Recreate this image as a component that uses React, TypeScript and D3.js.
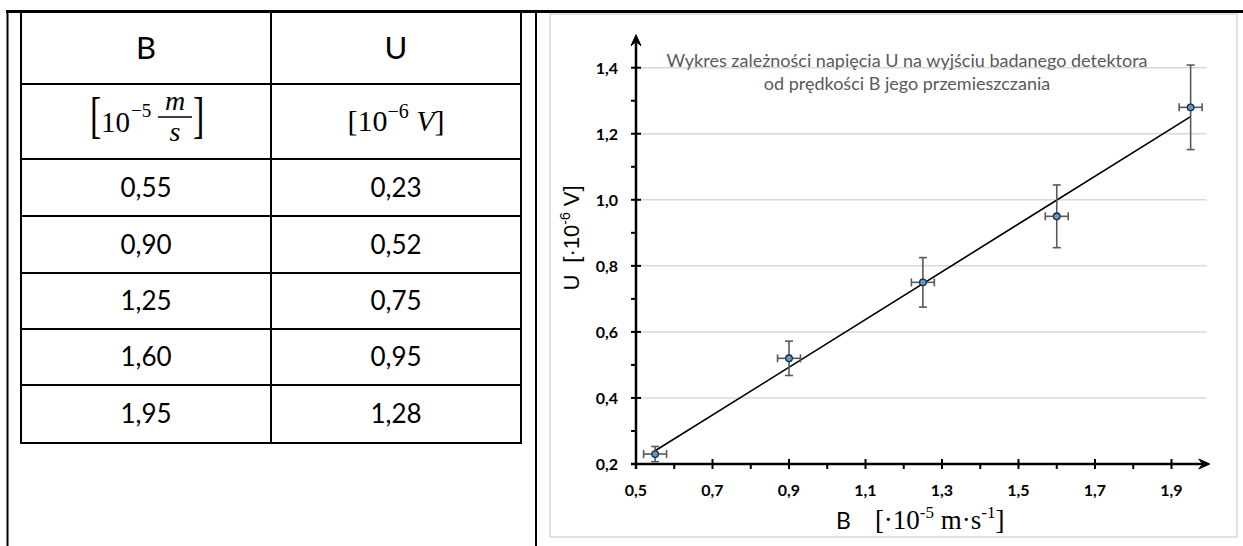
import * as d3 from 'd3'

// measurement table
const bLabels = ['0,55', '0,90', '1,25', '1,60', '1,95']
const uLabels = ['0,23', '0,52', '0,75', '0,95', '1,28']

// chart series
const bValues = [0.55, 0.9, 1.25, 1.6, 1.95]
const uValues = [0.23, 0.52, 0.75, 0.95, 1.28]
const bErrors = [0.03, 0.03, 0.03, 0.03, 0.03]
const uErrors = [0.023, 0.052, 0.075, 0.095, 0.128]

const xMajorTicks = [0.5, 0.7, 0.9, 1.1, 1.3, 1.5, 1.7, 1.9]
const xMinorTicks = [0.6, 0.8, 1.0, 1.2, 1.4, 1.6, 1.8]
const yMajorTicks = [0.2, 0.4, 0.6, 0.8, 1.0, 1.2, 1.4]
const yMinorTicks = [0.3, 0.5, 0.7, 0.9, 1.1, 1.3]

const titleLines = [
  'Wykres zależności napięcia U na wyjściu badanego detektora',
  'od prędkości B jego przemieszczania',
]

const SANS = 'Lato, "Open Sans", sans-serif'
const SERIF = '"Liberation Serif", "DejaVu Serif", serif'

const plFormat = d3.formatLocale({ decimal: ',', thousands: ' ', grouping: [3], currency: ['', ''] }).format('.1f')

export default function App() {
  const width = 1243
  const height = 546

  const x = d3.scaleLinear().domain([0.5, 1.9]).range([636, 1171.5])
  const y = d3.scaleLinear().domain([0.2, 1.4]).range([464, 67.7])

  // least squares fit line
  const points = bValues.map((b, i) => ({ b, u: uValues[i], eb: bErrors[i], eu: uErrors[i] }))
  const mb = d3.mean(bValues) ?? 0
  const mu = d3.mean(uValues) ?? 0
  const sxy = d3.sum(points, p => (p.b - mb) * (p.u - mu))
  const sxx = d3.sum(points, p => (p.b - mb) ** 2)
  const slope = sxy / sxx
  const icpt = mu - slope * mb
  const [bMin, bMax] = d3.extent(bValues) as [number, number]
  const fitLine = d3.line<number>().x(b => x(b)).y(b => y(icpt + slope * b))

  // table layout
  const colX = [21, 271, 521]
  const rowY = [11, 84, 159, 216, 273, 329, 385, 443]
  const c1 = (colX[0] + colX[1]) / 2
  const c2 = (colX[1] + colX[2]) / 2

  const x0 = x(0.5)
  const y0 = y(0.2)
  const xEnd = x(2.0)
  const yEnd = y(1.5)

  return (
    <svg width={width} height={height} style={{ position: 'absolute', left: 0, top: 0, background: '#fff' }}>
      {/* page frame */}
      <line x1={6} x2={width} y1={11.5} y2={11.5} stroke="#000" strokeWidth={3} />
      <line x1={7.5} x2={7.5} y1={10} y2={height} stroke="#000" strokeWidth={2} />
      <line x1={536} x2={536} y1={10} y2={height} stroke="#000" strokeWidth={2} />

      {/* table */}
      <g stroke="#000" strokeWidth={2}>
        {colX.map(cx => (
          <line key={cx} x1={cx} x2={cx} y1={rowY[0]} y2={rowY[rowY.length - 1] + 1} />
        ))}
        {rowY.slice(1).map(ry => (
          <line key={ry} x1={colX[0]} x2={colX[2]} y1={ry} y2={ry} />
        ))}
      </g>
      <g fontFamily={SANS} fill="#000" textAnchor="middle">
        <text x={c1} y={59} fontSize={31}>B</text>
        <text x={c2} y={59} fontSize={31}>U</text>
        {bLabels.map((lab, i) => (
          <text key={lab} x={c1} y={(rowY[i + 2] + rowY[i + 3]) / 2 + 9} fontSize={26}>{lab}</text>
        ))}
        {uLabels.map((lab, i) => (
          <text key={lab} x={c2} y={(rowY[i + 2] + rowY[i + 3]) / 2 + 9} fontSize={26}>{lab}</text>
        ))}
      </g>
      {/* unit cells */}
      <g fontFamily={SERIF} fill="#000">
        <text x={90} y={132} fontSize={34} transform="translate(0,-62) scale(1,1.47)" style={{ transformOrigin: '0 0' }}>[</text>
        <text x={101} y={132} fontSize={29}>10</text>
        <text x={131} y={117} fontSize={19}>−5</text>
        <text x={175} y={110} fontSize={28} fontStyle="italic" textAnchor="middle">m</text>
        <line x1={158} x2={192} y1={117} y2={117} stroke="#000" strokeWidth={1.3} />
        <text x={175} y={141} fontSize={28} fontStyle="italic" textAnchor="middle">s</text>
        <text x={193} y={132} fontSize={34} transform="translate(0,-62) scale(1,1.47)" style={{ transformOrigin: '0 0' }}>]</text>

        <text x={c2} y={131} fontSize={30} textAnchor="middle">
          [10<tspan fontSize={20} dy={-13}>−6</tspan>
          <tspan dy={13}> </tspan>
          <tspan fontStyle="italic">V</tspan>]
        </text>
      </g>

      {/* chart frame */}
      <rect x={550} y={14} width={687} height={523} fill="#fff" stroke="#d9d9d9" strokeWidth={1.5} />

      {/* grid */}
      <g stroke="#d9d9d9" strokeWidth={1.5}>
        {yMajorTicks.filter(t => t > 0.2).map(t => (
          <line key={t} x1={x0 + 2} x2={xEnd - 3} y1={y(t)} y2={y(t)} />
        ))}
      </g>

      {/* title */}
      <g fontFamily={SANS} fontSize={18} fill="#595959" textAnchor="middle">
        {titleLines.map((ln, i) => (
          <text key={i} x={907} y={67 + i * 23}>{ln}</text>
        ))}
      </g>

      {/* axes */}
      <g stroke="#000" strokeWidth={2.5}>
        <line x1={x0} x2={x0} y1={y0 + 5} y2={yEnd + 4} />
        <line x1={x0 - 5} x2={xEnd - 4} y1={y0} y2={y0} />
      </g>
      <path d={`M${x0},${yEnd} L${x0 - 5},${yEnd + 11} L${x0},${yEnd + 7} L${x0 + 5},${yEnd + 11} Z`} fill="#000" stroke="#000" strokeWidth={1} strokeLinejoin="round" />
      <path d={`M${xEnd},${y0} L${xEnd - 11},${y0 - 5} L${xEnd - 7},${y0} L${xEnd - 11},${y0 + 5} Z`} fill="#000" stroke="#000" strokeWidth={1} strokeLinejoin="round" />
      <g stroke="#000" strokeWidth={2}>
        {xMajorTicks.map(t => (
          <line key={t} x1={x(t)} x2={x(t)} y1={y0 - 5} y2={y0 + 5} />
        ))}
        {xMinorTicks.map(t => (
          <line key={t} x1={x(t)} x2={x(t)} y1={y0} y2={y0 + 5} />
        ))}
        {yMajorTicks.map(t => (
          <line key={t} x1={x0 - 5} x2={x0 + 5} y1={y(t)} y2={y(t)} />
        ))}
        {yMinorTicks.map(t => (
          <line key={t} x1={x0 - 5} x2={x0} y1={y(t)} y2={y(t)} />
        ))}
      </g>
      <g fontFamily={SANS} fontSize={16} fontWeight="bold" fill="#000">
        {xMajorTicks.map(t => (
          <text key={t} x={x(t)} y={y0 + 32} textAnchor="middle">{plFormat(t)}</text>
        ))}
        {yMajorTicks.map(t => (
          <text key={t} x={x0 - 18} y={y(t) + 6} textAnchor="end">{plFormat(t)}</text>
        ))}
      </g>

      {/* axis titles */}
      <text x={836} y={529} fill="#000">
        <tspan fontFamily={SANS} fontSize={23}>B</tspan>
        <tspan fontFamily={SERIF} fontSize={27} dx={24}>[·10</tspan>
        <tspan fontFamily={SERIF} fontSize={17} dy={-11}>-5</tspan>
        <tspan fontFamily={SERIF} fontSize={27} dy={11}> m·s</tspan>
        <tspan fontFamily={SERIF} fontSize={17} dy={-11}>-1</tspan>
        <tspan fontFamily={SERIF} fontSize={27} dy={11}>]</tspan>
      </text>
      <text transform="translate(579,238) rotate(-90)" textAnchor="middle" fontFamily='"Liberation Sans", Arial, sans-serif' fontSize={22} fill="#000">
        U<tspan dx={12}>[·10</tspan>
        <tspan fontSize={14} dy={-9}>-6</tspan>
        <tspan dy={9}> V]</tspan>
      </text>

      {/* fit line */}
      <path d={fitLine([bMin, bMax]) ?? ''} fill="none" stroke="#000" strokeWidth={1.6} />

      {/* error bars and points */}
      <g stroke="#595959" strokeWidth={1.6}>
        {points.map(p => (
          <g key={p.b}>
            <line x1={x(p.b)} x2={x(p.b)} y1={y(p.u - p.eu)} y2={y(p.u + p.eu)} />
            <line x1={x(p.b) - 4} x2={x(p.b) + 4} y1={y(p.u - p.eu)} y2={y(p.u - p.eu)} />
            <line x1={x(p.b) - 4} x2={x(p.b) + 4} y1={y(p.u + p.eu)} y2={y(p.u + p.eu)} />
            <line x1={x(p.b - p.eb)} x2={x(p.b + p.eb)} y1={y(p.u)} y2={y(p.u)} />
            <line x1={x(p.b - p.eb)} x2={x(p.b - p.eb)} y1={y(p.u) - 4} y2={y(p.u) + 4} />
            <line x1={x(p.b + p.eb)} x2={x(p.b + p.eb)} y1={y(p.u) - 4} y2={y(p.u) + 4} />
          </g>
        ))}
      </g>
      <g>
        {points.map(p => (
          <circle key={p.b} cx={x(p.b)} cy={y(p.u)} r={3.3} fill="#5b9bd5" stroke="#1f2a36" strokeWidth={1.3} />
        ))}
      </g>
    </svg>
  )
}
